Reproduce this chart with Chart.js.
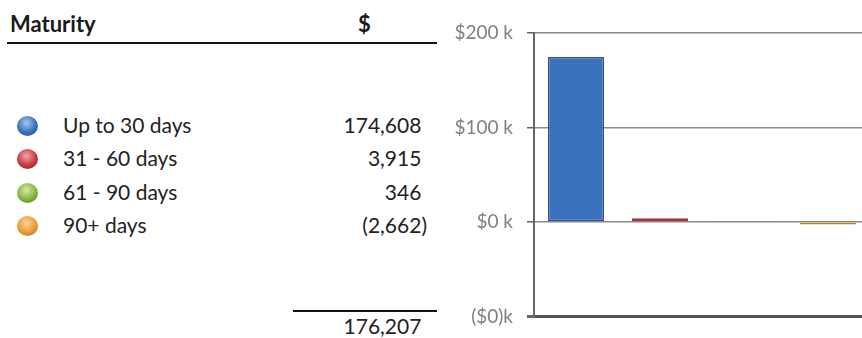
<!DOCTYPE html>
<html>
<head>
<meta charset="utf-8">
<script src="https://cdn.jsdelivr.net/npm/chart.js@4.4.1/dist/chart.umd.min.js"></script>
<style>
    html, body { margin: 0; padding: 0; background: #fff; }
    body { width: 862px; height: 338px; overflow: hidden; position: relative; font-family: Lato, "Open Sans", sans-serif; color: #222; }
    .hdr { position: absolute; top: 10px; font-weight: bold; font-size: 22px; color: #1a1a1a; }
    .rule { position: absolute; height: 2px; background: #111; }
    .row { position: absolute; left: 0; width: 440px; height: 33px; font-size: 21px; }
    .ball { position: absolute; left: 17px; top: 6px; width: 21px; height: 20px; border-radius: 50%; }
    .lbl { position: absolute; left: 63px; top: 2px; white-space: nowrap; }
    .val { position: absolute; right: 13px; top: 2px; text-align: right; white-space: nowrap; }
    .pad { visibility: hidden; }
    #chartBox { position: absolute; left: 440px; top: 0; width: 430px; height: 342px; }
</style>
</head>
<body>
<div class="hdr" style="left:10px">Maturity</div>
<div class="hdr" style="left:358px">$</div>
<div class="rule" style="left:7px; width:430px; top:42px"></div>
<div id="rows"></div>
<div class="rule" style="left:293px; width:144px; top:310px"></div>
<div class="row" id="totalRow" style="top:311px"></div>
<div id="chartBox"><canvas id="maturityChart"></canvas></div>

<script>
// Data
const categories = ['Up to 30 days', '31 - 60 days', '61 - 90 days', '90+ days'];
const amounts = [174608, 3915, 346, -2662];
const tickValues = [-100000, 0, 100000, 200000];
const tickLabels = ['($0)k', '$0 k', '$100 k', '$200 k'];

// Colours
const barColors = ['#3b70bd', '#c9414e', '#8db452', '#e49b3d'];
const barBorders = ['#2a5590', '#a9303c', '#6f9238', '#c47f28'];
const ballColors = [
    ['#a9c8f0', '#3a6fb8', '#1f4a85'],
    ['#f0a8a8', '#c4393f', '#7f1f22'],
    ['#d6eca8', '#86b33f', '#4f7620'],
    ['#fbd49a', '#ec9a35', '#b0631a']
];

// Format numbers like the accounting column
function formatAmount(v) {
    const s = Math.abs(v).toLocaleString('en-US');
    return v < 0 ? `(${s})` : `${s}<span class="pad">)</span>`;
}

// Build table rows
const rowsEl = document.getElementById('rows');
categories.forEach((cat, i) => {
    const row = document.createElement('div');
    row.className = 'row';
    row.style.top = (110 + i * 33.3) + 'px';
    const c = ballColors[i];
    row.innerHTML = `
        <div class="ball" style="background: radial-gradient(circle at 45% 35%, ${c[0]} 0%, ${c[1]} 55%, ${c[2]} 100%)"></div>
        <div class="lbl">${cat}</div>
        <div class="val">${formatAmount(amounts[i])}</div>
    `;
    rowsEl.appendChild(row);
});

const total = amounts.reduce((a, b) => a + b, 0);
document.getElementById('totalRow').innerHTML = `<div class="val">${formatAmount(total)}</div>`;

// Chart
new Chart(document.getElementById('maturityChart'), {
    type: 'bar',
    data: {
        labels: categories,
        datasets: [{
            data: amounts,
            backgroundColor: barColors,
            borderColor: barBorders,
            borderWidth: 1.5,
            borderSkipped: false,
            categoryPercentage: 1,
            barPercentage: 0.667
        }]
    },
    options: {
        responsive: true,
        maintainAspectRatio: false,
        animation: false,
        layout: { padding: { top: 33, bottom: 14, left: 0, right: 0 } },
        plugins: {
            legend: { display: false },
            tooltip: { enabled: false }
        },
        scales: {
            x: { display: false },
            y: {
                min: -100000,
                max: 200000,
                afterBuildTicks: (scale) => {
                    scale.ticks = tickValues.map(v => ({ value: v }));
                },
                afterFit: (scale) => { scale.width = 94; },
                ticks: {
                    color: '#808080',
                    font: { family: 'Lato', size: 19 },
                    padding: 14,
                    callback: (value) => tickLabels[tickValues.indexOf(value)]
                },
                grid: {
                    color: (ctx) => ctx.tick && ctx.tick.value === -100000 ? '#555' : '#8a8a8a',
                    lineWidth: (ctx) => ctx.tick && ctx.tick.value === -100000 ? 3 : 1.5,
                    tickLength: 7,
                    tickColor: '#666'
                },
                border: { display: true, color: '#666', width: 2 }
            }
        }
    }
});
</script>
</body>
</html>
